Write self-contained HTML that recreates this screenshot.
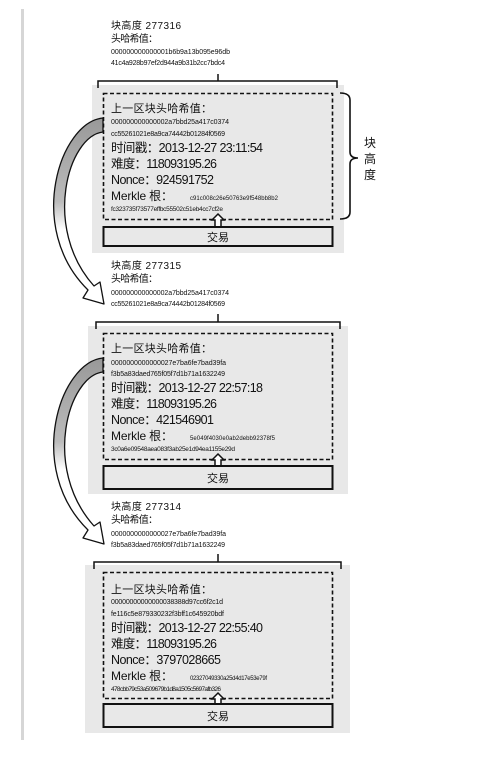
<!DOCTYPE html>
<html><head><meta charset="utf-8"><style>
html,body{margin:0;padding:0;background:#fff;}
svg{display:block;}
text{font-family:"Liberation Sans","Noto Sans CJK SC",sans-serif;fill:#111;}
.h{font-size:7px;}
</style></head><body>
<svg width="483" height="766" viewBox="0 0 483 766" xmlns="http://www.w3.org/2000/svg">
<defs>
<linearGradient id="ag" x1="0" y1="0" x2="0" y2="1">
<stop offset="0" stop-color="#999"/><stop offset="0.45" stop-color="#bbb"/><stop offset="0.6" stop-color="#fff"/><stop offset="1" stop-color="#fff"/>
</linearGradient>
</defs>
<rect x="21" y="9" width="3" height="731" fill="#d6d6d6"/>

<g id="b1">
<text x="111" y="29" font-size="10" textLength="70">块高度 277316</text>
<text x="111" y="42" font-size="10" textLength="47">头哈希值：</text>
<text x="111" y="54" class="h" textLength="119">000000000000001b6b9a13b095e96db</text>
<text x="111" y="65" class="h" textLength="114">41c4a928b97ef2d944a9b31b2cc7bdc4</text>
<rect x="92" y="85" width="252" height="168" fill="#e8e8e8"/>
<path d="M98,88 V81 H337 V88 M218,81 V74" fill="none" stroke="#111" stroke-width="1.5"/>
<rect x="103.5" y="93.5" width="229" height="126" fill="none" stroke="#111" stroke-width="1.6" stroke-dasharray="4,2.5"/>
<text x="111" y="112" font-size="11" textLength="101">上一区块头哈希值：</text>
<text x="111" y="124" class="h" textLength="118">000000000000002a7bbd25a417c0374</text>
<text x="111" y="136" class="h" textLength="114">cc55261021e8a9ca74442b01284f0569</text>
<text x="111" y="152" font-size="12.5" textLength="152">时间戳：2013-12-27 23:11:54</text>
<text x="111" y="168" font-size="12.5" textLength="106">难度：118093195.26</text>
<text x="111" y="184" font-size="12.5" textLength="103">Nonce：924591752</text>
<text x="111" y="200" font-size="12" textLength="62">Merkle 根：</text>
<text x="190" y="200" font-size="6" textLength="88">c91c008c26e50763e9f548bb8b2</text>
<text x="111" y="211" font-size="6.5" textLength="112">fc323735f73577effbc55502c51eb4cc7cf2e</text>
<path d="M218,214 L224,220 L221,220 L221,227 L215,227 L215,220 L212,220 Z" fill="#fff" stroke="#111" stroke-width="1.5"/>
<rect x="103.5" y="227" width="229" height="19" fill="#e8e8e8" stroke="#111" stroke-width="2"/>
<text x="218" y="241" font-size="11" text-anchor="middle">交易</text>
<path d="M340,93 Q350,93 350,100 V152 Q350,158 358,158 Q350,158 350,164 V212 Q350,219 340,219" fill="none" stroke="#111" stroke-width="1.6"/>
<text x="364" y="147" font-size="12">块</text>
<text x="364" y="163" font-size="12">高</text>
<text x="364" y="179" font-size="12">度</text>
</g>

<g id="b2">
<text x="111" y="269" font-size="10" textLength="70">块高度 277315</text>
<text x="111" y="282" font-size="10" textLength="47">头哈希值：</text>
<text x="111" y="295" class="h" textLength="118">000000000000002a7bbd25a417c0374</text>
<text x="111" y="306" class="h" textLength="114">cc55261021e8a9ca74442b01284f0569</text>
<rect x="88" y="326" width="260" height="168" fill="#e8e8e8"/>
<path d="M96,329 V322 H340 V329 M218,322 V314" fill="none" stroke="#111" stroke-width="1.5"/>
<rect x="103.5" y="333.5" width="229" height="126" fill="none" stroke="#111" stroke-width="1.6" stroke-dasharray="4,2.5"/>
<text x="111" y="352" font-size="11" textLength="101">上一区块头哈希值：</text>
<text x="111" y="365" class="h" textLength="115">0000000000000027e7ba6fe7bad39fa</text>
<text x="111" y="376" class="h" textLength="114">f3b5a83daed765f05f7d1b71a1632249</text>
<text x="111" y="392" font-size="12.5" textLength="152">时间戳：2013-12-27 22:57:18</text>
<text x="111" y="408" font-size="12.5" textLength="106">难度：118093195.26</text>
<text x="111" y="424" font-size="12.5" textLength="103">Nonce：421546901</text>
<text x="111" y="440" font-size="12" textLength="62">Merkle 根：</text>
<text x="190" y="440" font-size="6" textLength="85">5e049f4030e0ab2debb92378f5</text>
<text x="111" y="451" font-size="6.5" textLength="124">3c0a6e09548aea083f3ab25e1d94ea1155e29d</text>
<path d="M218,454 L224,460 L221,460 L221,466 L215,466 L215,460 L212,460 Z" fill="#fff" stroke="#111" stroke-width="1.5"/>
<rect x="103.5" y="466" width="229" height="23" fill="#e8e8e8" stroke="#111" stroke-width="2"/>
<text x="218" y="482" font-size="11" text-anchor="middle">交易</text>
</g>

<g id="b3">
<text x="111" y="510" font-size="10" textLength="70">块高度 277314</text>
<text x="111" y="523" font-size="10" textLength="47">头哈希值：</text>
<text x="111" y="536" class="h" textLength="115">0000000000000027e7ba6fe7bad39fa</text>
<text x="111" y="547" class="h" textLength="114">f3b5a83daed765f05f7d1b71a1632249</text>
<rect x="85" y="565" width="265" height="168" fill="#e8e8e8"/>
<path d="M94,569 V562 H341 V569 M218,562 V554" fill="none" stroke="#111" stroke-width="1.5"/>
<rect x="103.5" y="572.5" width="229" height="126" fill="none" stroke="#111" stroke-width="1.6" stroke-dasharray="4,2.5"/>
<text x="111" y="593" font-size="11" textLength="101">上一区块头哈希值：</text>
<text x="111" y="604" class="h" textLength="112">00000000000000038388d97cc6f2c1d</text>
<text x="111" y="616" class="h" textLength="113">fe116c5e879330232f3bff1c645920bdf</text>
<text x="111" y="632" font-size="12.5" textLength="152">时间戳：2013-12-27 22:55:40</text>
<text x="111" y="648" font-size="12.5" textLength="106">难度：118093195.26</text>
<text x="111" y="664" font-size="12.5" textLength="110">Nonce：3797028665</text>
<text x="111" y="680" font-size="12" textLength="62">Merkle 根：</text>
<text x="190" y="680" font-size="6" textLength="77">02327049330a25d4d17e53e79f</text>
<text x="111" y="691" font-size="6.5" textLength="110">478cbb79c53a509679b1d8a1505c5697afb326</text>
<path d="M218,693 L224,699 L221,699 L221,704 L215,704 L215,699 L212,699 Z" fill="#fff" stroke="#111" stroke-width="1.5"/>
<rect x="103.5" y="704" width="229" height="23" fill="#e8e8e8" stroke="#111" stroke-width="2"/>
<text x="218" y="720" font-size="11" text-anchor="middle">交易</text>
</g>

<g fill="url(#ag)" stroke="#111" stroke-width="1.3" stroke-linejoin="round">
<path d="M103,118 C60,122 25,228 88,290 L83,298 L104,304 L100,282 L94,286 C42,228 68,136 103,132 Z"/>
<path d="M103,358 C60,362 25,468 88,530 L83,538 L104,544 L100,522 L94,526 C42,468 68,376 103,372 Z"/>
</g>
</svg>
</body></html>
